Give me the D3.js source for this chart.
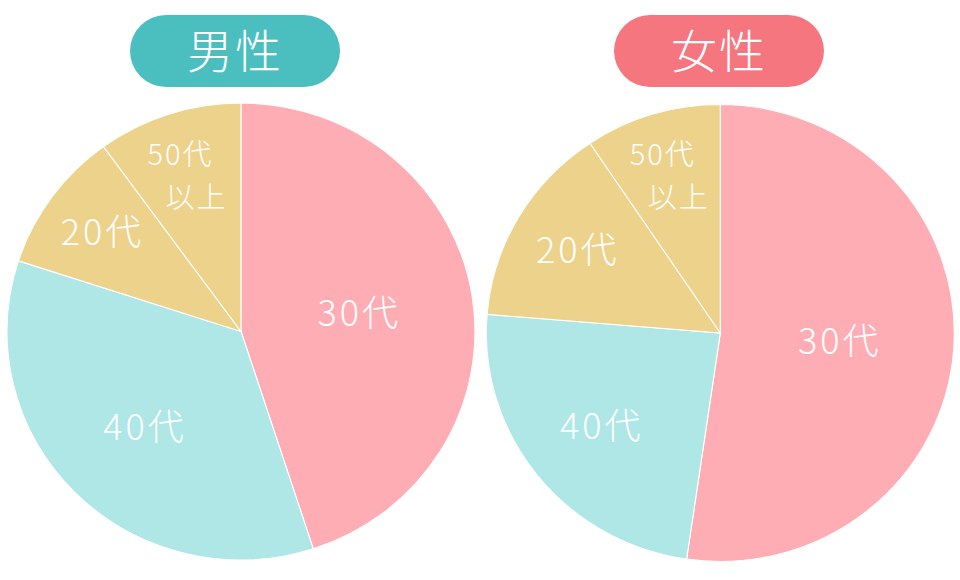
<!DOCTYPE html>
<html>
<head>
<meta charset="utf-8">
<script src="https://cdn.jsdelivr.net/npm/d3@7"></script>
<style>
html,body{margin:0;padding:0;background:#fff;}
svg{display:block;}
text{font-family:"Noto Sans CJK JP","Noto Sans",sans-serif;}
</style>
</head>
<body>
<svg id="chart" width="960" height="580"></svg>
<script>
// ---- data ----
const categories = ["30代", "40代", "20代", "50代\n以上"];
const maleValues = [45, 35, 10, 10];
const femaleValues = [52.3, 24.0, 14.3, 9.4];
const groupTitles = ["男性", "女性"];

// ---- style / layout ----
const sliceColors = ["#FFADB5", "#AEE7E6", "#EDD28B"];
const colorScale = d3.scaleOrdinal().domain(categories).range([sliceColors[0], sliceColors[1], sliceColors[2], sliceColors[2]]);
const headerColors = ["#4BBFBF", "#F6767F"];

const svg = d3.select("#chart");
const R = 228.5, sx = 1.024;

const panels = [
  {values: maleValues, title: groupTitles[0], cx: 241, cy: 331.5, hx: 235, hcolor: headerColors[0]},
  {values: femaleValues, title: groupTitles[1], cx: 720.3, cy: 333, hx: 719, hcolor: headerColors[1]}
];

const pie = d3.pie().sort(null).value(d => d.v);
const arc = d3.arc().innerRadius(0).outerRadius(R);

panels.forEach(p => {
  const data = categories.map((c, i) => ({c, v: p.values[i]}));
  const arcs = pie(data);
  const total = d3.sum(p.values);

  // header pill
  const hg = svg.append("g").attr("transform", `translate(${p.hx},51)`);
  hg.append("rect").attr("x", -105).attr("y", -36).attr("width", 210).attr("height", 72)
    .attr("rx", 36).attr("ry", 36).attr("fill", p.hcolor);
  hg.append("text").attr("text-anchor", "middle").attr("dy", "0.36em")
    .attr("fill", "#fff").attr("font-size", 46).attr("font-weight", 300)
    .attr("letter-spacing", 2)
    .text(p.title);

  // pie
  const g = svg.append("g").attr("transform", `translate(${p.cx},${p.cy}) scale(${sx},1)`);
  g.selectAll("path").data(arcs).enter().append("path")
    .attr("d", arc)
    .attr("fill", d => colorScale(d.data.c))
    .attr("stroke", "#fff").attr("stroke-width", 1.1);

  // labels
  const lg = svg.append("g").attr("transform", `translate(${p.cx},${p.cy})`);
  arcs.forEach(d => {
    const share = d.data.v / total;
    const frac = share > 0.4 ? 0.505 : 0.80 - 0.6 * share;
    const la = d3.arc().innerRadius(R * frac).outerRadius(R * frac);
    const [x, y] = la.centroid(d);
    const lines = d.data.c.split("\n");
    const multi = lines.length > 1;
    const fs = multi ? 29 : 36;
    const ls = multi ? 2 : 3;
    const t = lg.append("text")
      .attr("x", x * sx).attr("y", y)
      .attr("text-anchor", "middle")
      .attr("fill", "#fff")
      .attr("font-size", fs)
      .attr("font-weight", 300)
      .attr("letter-spacing", ls);
    lines.forEach((ln, i) => {
      t.append("tspan")
        .attr("x", x * sx + ls / 2 + (multi ? (i === 0 ? -8 : 8) : 0))
        .attr("dy", i === 0 ? (multi ? "-0.2em" : "0.36em") : "1.48em")
        .text(ln);
    });
  });
});
</script>
</body>
</html>
